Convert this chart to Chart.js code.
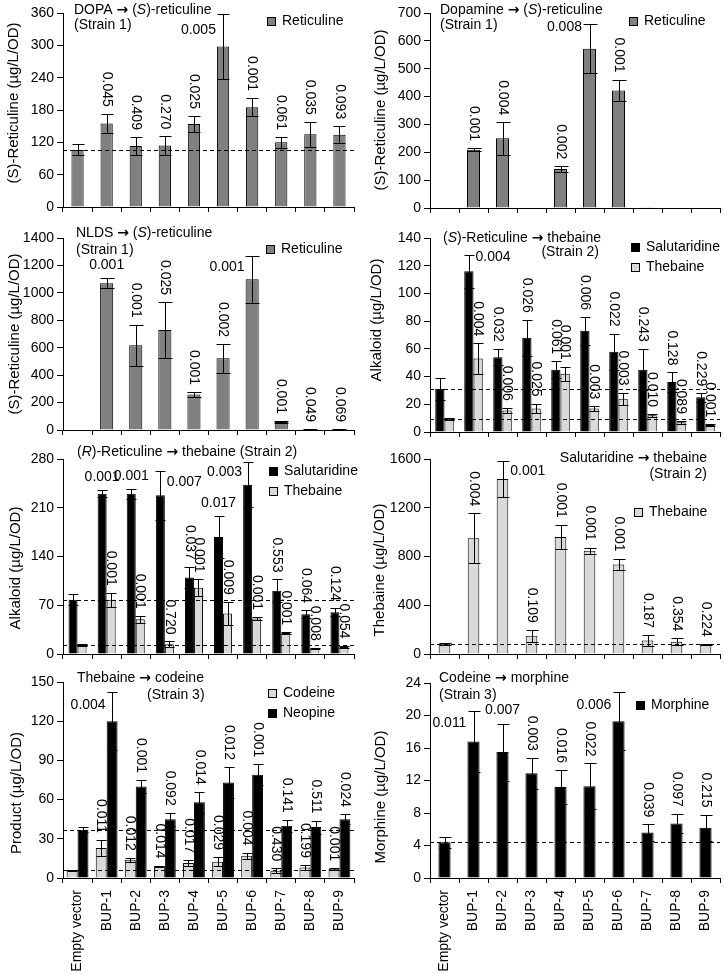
<!DOCTYPE html>
<html><head><meta charset="utf-8">
<script src="https://cdn.jsdelivr.net/npm/chart.js@4.4.0/dist/chart.umd.min.js"></script>
<style>
html,body{margin:0;padding:0;background:#fff;}
body{width:724px;height:974px;position:relative;overflow:hidden;}
canvas{position:absolute;}
</style></head><body>
<canvas id="c1" width="362" height="222" style="left:0;top:0"></canvas>
<canvas id="c2" width="362" height="222" style="left:362px;top:0"></canvas>
<canvas id="c3" width="362" height="222" style="left:0;top:222px"></canvas>
<canvas id="c4" width="362" height="222" style="left:362px;top:222px"></canvas>
<canvas id="c5" width="362" height="226" style="left:0;top:444px"></canvas>
<canvas id="c6" width="362" height="226" style="left:362px;top:444px"></canvas>
<canvas id="c7" width="362" height="304" style="left:0;top:670px"></canvas>
<canvas id="c8" width="362" height="304" style="left:362px;top:670px"></canvas>
<script>
// ---------- data ----------
const categories = ['Empty vector','BUP-1','BUP-2','BUP-3','BUP-4','BUP-5','BUP-6','BUP-7','BUP-8','BUP-9'];

// Panel 1: DOPA -> (S)-reticuline
const dopaRet    = [106, 155, 113, 114, 154, 298, 185, 120, 135, 134];
const dopaRetErr = [10, 18, 17, 17, 15, 60, 17, 10, 23, 16];
const dopaP      = [null,'0.045','0.409','0.270','0.025','0.005','0.001','0.061','0.035','0.093'];

// Panel 2: Dopamine -> (S)-reticuline
const dopamineRet    = [2, 209, 250, 2, 140, 572, 422, 1, 0, 0];
const dopamineRetErr = [0, 6, 58, 0, 10, 88, 39, 0, 0, 0];
const dopamineP      = [null,'0.001','0.004',null,'0.002','0.008','0.001',null,null,null];

// Panel 3: NLDS -> (S)-reticuline
const nldsRet    = [0, 1070, 618, 730, 258, 523, 1100, 58, 5, 5];
const nldsRetErr = [0, 35, 150, 203, 19, 104, 172, 8, 2, 2];
const nldsP      = [null,'0.001','0.001','0.025','0.001','0.002','0.001','0.001','0.049','0.069'];

// Panel 4: (S)-Reticuline -> thebaine
const sRetSal     = [31, 116, 54, 68, 45, 73, 58, 45, 36, 25];
const sRetSalErr  = [8, 12, 6, 13, 6, 10, 13, 15, 7, 3];
const sRetSalP    = [null,'0.004','0.032','0.026','0.061','0.006','0.022','0.243','0.128','0.229'];
const sRetTheb    = [9.5, 53, 15.5, 17, 42, 17, 24, 12, 7, 5];
const sRetThebErr = [0.5, 11, 2, 3.5, 5, 1.5, 4.5, 1, 1, 0.5];
const sRetThebP   = [null,'0.004','0.006','0.025','0.001','0.003','0.003','0.010','0.089','0.001'];

// Panel 5: (R)-Reticuline -> thebaine
const rRetSal     = [78, 230, 230, 228, 110, 168, 243, 91, 57, 60];
const rRetSalErr  = [8, 5, 7, 35, 15, 30, 32, 16, 6, 6];
const rRetSalP    = [null,'0.001','0.001','0.007','0.037','0.017','0.003','0.553','0.064','0.124'];
const rRetTheb    = [13, 78, 50, 14, 95, 58, 51, 30, 8, 10];
const rRetThebErr = [2, 10, 5, 4, 12, 17, 2, 1, 1, 2];
const rRetThebP   = [null,'0.001','0.001','0.720','0.001','0.009','0.001','0.001','0.008','0.054'];

// Panel 6: Salutaridine -> thebaine
const salThebaine    = [85, 950, 1435, 150, 960, 848, 735, 110, 100, 78];
const salThebaineErr = [8, 205, 145, 48, 100, 25, 48, 45, 28, 5];
const salThebaineP   = [null,'0.004','0.001','0.109','0.001','0.001','0.001','0.187','0.354','0.224'];

// Panel 7: Thebaine -> codeine
const codeine     = [6, 23, 14, 9, 11.5, 12.5, 17, 5.5, 8, 7];
const codeineErr  = [0.5, 6, 1.5, 0.5, 2, 3.5, 2.5, 2, 2, 0.5];
const codeineP    = [null,'0.011','0.012','0.014','0.017','0.029','0.004','0.430','0.199','0.001'];
const neopine     = [37, 120, 70, 45, 58, 73, 79, 40, 39, 45];
const neopineErr  = [2, 22, 5, 5, 8, 12, 8, 4.5, 5, 4];
const neopineP    = [null,'0.004','0.001','0.092','0.014','0.012','0.001','0.141','0.511','0.024'];

// Panel 8: Codeine -> morphine
const morphine    = [4.4, 16.8, 15.5, 12.9, 11.2, 11.3, 19.3, 5.6, 6.7, 6.2];
const morphineErr = [0.7, 3.8, 3.5, 1.9, 2.1, 2.8, 3.6, 1.0, 1.2, 1.6];
const morphineP   = [null,'0.011','0.007','0.003','0.016','0.022','0.006','0.039','0.097','0.215'];

// ---------- label placement styles (not data) ----------
const V = 'v';
const dopaPStyle      = [V,V,V,V,V,'hl:16',V,V,V,V];
const dopaminePStyle  = [V,V,V,V,V,'hl:3',V,V,V,V];
const nldsPStyle      = [V,'h',V,V,V,V,'hl:12',V,V,V];
const sRetSalPStyle   = [V,'hr:3',V,V,V,V,V,V,V,V];
const rRetSalPStyle   = [V,'h','h','hr:11',V,'h','hl:10',V,V,V];
const salThebPStyle   = [V,V,'hr:10',V,V,V,V,V,V,V];
const neopinePStyle   = [V,'hl:13',V,V,V,V,V,V,V,V];
const morphinePStyle  = [V,'hl:13','h',V,V,V,'hl:13',V,V,V];

const FONT = "'Liberation Sans', Arial, Helvetica, sans-serif";
const ARROW_FONT = "bold 14px 'DejaVu Sans', sans-serif";
const DARK = '#808080', LIGHT = '#d9d9d9', BLACK = '#000000';

Chart.defaults.font.family = FONT;
Chart.defaults.font.size = 14;
Chart.defaults.color = '#000';

function drawRich(ctx, str, x, y, align, size) {
  // '_' toggles italic; '→' drawn in a bolder font
  const segs = [];
  str.split('_').forEach((p, i) => {
    p.split(/(→)/).forEach(q => {
      if (!q) return;
      if (q === '→') segs.push({ t: q, f: ARROW_FONT });
      else segs.push({ t: q, f: (i % 2 ? 'italic ' : '') + size + 'px ' + FONT });
    });
  });
  const widths = segs.map(s => { ctx.font = s.f; return ctx.measureText(s.t).width; });
  const total = widths.reduce((a, b) => a + b, 0);
  let cx = align === 'right' ? x - total : (align === 'center' ? x - total / 2 : x);
  ctx.textBaseline = 'middle'; ctx.textAlign = 'left'; ctx.fillStyle = '#000';
  segs.forEach((s, i) => { ctx.font = s.f; ctx.fillText(s.t, cx, y); cx += widths[i]; });
}

function makeDeco(cfg) {
  return {
    id: 'deco_' + cfg.id,
    afterDatasetsDraw(chart) {
      const ctx = chart.ctx;
      const ys = chart.scales.y;
      const area = chart.chartArea;
      const ox = cfg.left, oy = cfg.top;
      ctx.save();
      // dashed reference lines at empty-vector level
      if (cfg.baseline) {
        ctx.strokeStyle = '#000'; ctx.lineWidth = 1; ctx.setLineDash([4, 3]);
        cfg.series.forEach(s => {
          const py = Math.round(ys.getPixelForValue(s.data[0])) + 0.5;
          ctx.beginPath(); ctx.moveTo(area.left, py); ctx.lineTo(area.right, py); ctx.stroke();
        });
        ctx.setLineDash([]);
      }
      // error bars
      ctx.strokeStyle = '#000'; ctx.lineWidth = 1;
      cfg.series.forEach((s, di) => {
        const meta = chart.getDatasetMeta(di);
        meta.data.forEach((bar, i) => {
          const e = s.err[i]; if (!e) return;
          const v = s.data[i];
          const x = Math.round(bar.x) + 0.5;
          const yt = Math.round(ys.getPixelForValue(v + e)) + 0.5;
          const yb = Math.round(ys.getPixelForValue(Math.max(0, v - e))) + 0.5;
          const hw = Math.round(bar.width / 2);
          ctx.beginPath();
          ctx.moveTo(x, yt); ctx.lineTo(x, yb);
          ctx.moveTo(x - hw, yt); ctx.lineTo(x + hw, yt);
          ctx.moveTo(x - hw, yb); ctx.lineTo(x + hw, yb);
          ctx.stroke();
        });
      });
      // p-value labels
      ctx.fillStyle = '#000';
      ctx.font = '14px ' + FONT;
      cfg.series.forEach((s, di) => {
        const meta = chart.getDatasetMeta(di);
        meta.data.forEach((bar, i) => {
          const p = s.p[i]; if (!p) return;
          const st = (s.style && s.style[i]) || 'v';
          const [kind, dyStr] = st.split(':');
          const dy = dyStr ? parseFloat(dyStr) : 11;
          const errTop = ys.getPixelForValue(s.data[i] + (s.err[i] || 0));
          ctx.save();
          if (kind === 'v') {
            ctx.translate(bar.x, errTop - 7);
            ctx.rotate(Math.PI / 2);
            ctx.textAlign = 'right'; ctx.textBaseline = 'middle';
            ctx.fillText(p, 0, 0);
          } else if (kind === 'h') {
            ctx.textAlign = 'center'; ctx.textBaseline = 'middle';
            ctx.fillText(p, bar.x, errTop - 13);
          } else if (kind === 'hl') {
            ctx.textAlign = 'right'; ctx.textBaseline = 'middle';
            ctx.fillText(p, bar.x - bar.width / 2 - 1, errTop + dy);
          } else if (kind === 'hr') {
            ctx.textAlign = 'left'; ctx.textBaseline = 'middle';
            ctx.fillText(p, bar.x + bar.width / 2 + 2, errTop + dy);
          }
          ctx.restore();
        });
      });
      // panel titles
      cfg.titles.forEach(t => drawRich(ctx, t.text, t.x - ox, t.y - oy, t.align || 'left', 14));
      // legend
      cfg.series.forEach((s, k) => {
        const ly = cfg.legend.y - oy + k * (cfg.legend.dy || 20);
        const lx = cfg.legend.x - ox;
        ctx.fillStyle = s.color;
        ctx.fillRect(lx, Math.round(ly - 4.5), 9, 9);
        ctx.strokeStyle = '#000'; ctx.lineWidth = 1;
        ctx.strokeRect(lx + 0.5, Math.round(ly - 4.5) + 0.5, 8, 8);
        ctx.fillStyle = '#000'; ctx.font = '14px ' + FONT;
        ctx.textAlign = 'left'; ctx.textBaseline = 'middle';
        ctx.fillText(s.label, lx + 15, ly);
      });
      // y-axis title
      ctx.save();
      ctx.translate(cfg.yTitlePos[0] - ox, cfg.yTitlePos[1] - oy);
      ctx.rotate(-Math.PI / 2);
      ctx.fillStyle = '#000'; ctx.font = '15px ' + FONT;
      ctx.textAlign = 'center'; ctx.textBaseline = 'middle';
      ctx.fillText(cfg.yTitle, 0, 0);
      ctx.restore();
      ctx.restore();
    }
  };
}

function buildPanel(cfg) {
  const canvas = document.getElementById(cfg.id);
  const datasets = cfg.series.map(s => ({
    label: s.label, data: s.data, backgroundColor: s.color, borderColor: '#000', borderWidth: 1,
    barPercentage: 1, categoryPercentage: cfg.catPct
  }));
  new Chart(canvas, {
    type: 'bar',
    data: { labels: categories, datasets },
    options: {
      responsive: false, animation: false, devicePixelRatio: 1,
      layout: { padding: { top: cfg.padTop, right: cfg.padRight, bottom: 0, left: 0 } },
      plugins: { legend: { display: false }, tooltip: { enabled: false }, title: { display: false } },
      scales: {
        x: {
          offset: true,
          grid: { display: true, offset: true, drawOnChartArea: false, drawTicks: true, tickLength: 5, color: '#000', lineWidth: 1 },
          border: { display: true, color: '#000', width: 1 },
          ticks: { display: cfg.xLabels, autoSkip: false, minRotation: 90, maxRotation: 90, padding: 7, font: { size: 14 }, color: '#000' },
          afterFit(scale) { scale.height = cfg.xH; scale.paddingLeft = 0; scale.paddingRight = 0; }
        },
        y: {
          min: 0, max: cfg.yMax,
          ticks: { stepSize: cfg.yStep, padding: 3, font: { size: 14 }, color: '#000', callback: v => String(v) },
          grid: { display: true, drawOnChartArea: false, drawTicks: true, tickLength: 6, color: '#000', lineWidth: 1 },
          border: { display: true, color: '#000', width: 1 },
          afterFit(scale) { scale.width = cfg.axisW; scale.paddingTop = 0; scale.paddingBottom = 0; }
        }
      }
    },
    plugins: [makeDeco(cfg)]
  });
}

const L = { left: 0, axisW: 63, padRight: 8 };
const R = { left: 362, axisW: 68, padRight: 4 };

const panels = [
  Object.assign({}, L, { id: 'c1', top: 0, padTop: 13, xH: 15, yMax: 360, yStep: 60, catPct: 0.42, baseline: true, xLabels: false,
    yTitle: '(S)-Reticuline (µg/L/OD)', yTitlePos: [14, 103],
    series: [{ label: 'Reticuline', data: dopaRet, err: dopaRetErr, p: dopaP, style: dopaPStyle, color: DARK }],
    titles: [{ text: 'DOPA → (_S_)-reticuline', x: 74, y: 10 }, { text: '(Strain 1)', x: 74, y: 25.5 }],
    legend: { x: 267, y: 21 } }),
  Object.assign({}, R, { id: 'c2', top: 0, padTop: 13, xH: 14, yMax: 700, yStep: 100, catPct: 0.45, baseline: false, xLabels: false,
    yTitle: '(S)-Reticuline (µg/L/OD)', yTitlePos: [381, 110],
    series: [{ label: 'Reticuline', data: dopamineRet, err: dopamineRetErr, p: dopamineP, style: dopaminePStyle, color: DARK }],
    titles: [{ text: 'Dopamine → (_S_)-reticuline', x: 440, y: 10 }, { text: '(Strain 1)', x: 440, y: 25.5 }],
    legend: { x: 629, y: 21 } }),
  Object.assign({}, L, { id: 'c3', top: 222, padTop: 16, xH: 14, yMax: 1400, yStep: 200, catPct: 0.45, baseline: false, xLabels: false,
    yTitle: '(S)-Reticuline (µg/L/OD)', yTitlePos: [15, 334],
    series: [{ label: 'Reticuline', data: nldsRet, err: nldsRetErr, p: nldsP, style: nldsPStyle, color: DARK }],
    titles: [{ text: 'NLDS → (_S_)-reticuline', x: 76, y: 233.5 }, { text: '(Strain 1)', x: 76, y: 250.5 }],
    legend: { x: 266, y: 249 } }),
  Object.assign({}, R, { id: 'c4', top: 222, padTop: 16, xH: 12, yMax: 140, yStep: 20, catPct: 0.64, baseline: true, xLabels: false,
    yTitle: 'Alkaloid (µg/L/OD)', yTitlePos: [377, 320],
    series: [
      { label: 'Salutaridine', data: sRetSal, err: sRetSalErr, p: sRetSalP, style: sRetSalPStyle, color: BLACK },
      { label: 'Thebaine', data: sRetTheb, err: sRetThebErr, p: sRetThebP, color: LIGHT }],
    titles: [{ text: '(_S_)-Reticuline → thebaine', x: 443, y: 238.5 }, { text: '(Strain 2)', x: 599, y: 252, align: 'right' }],
    legend: { x: 631, y: 247.5, dy: 19.5 } }),
  Object.assign({}, L, { id: 'c5', top: 444, padTop: 15, xH: 16, yMax: 280, yStep: 70, catPct: 0.62, baseline: true, xLabels: false,
    yTitle: 'Alkaloid (µg/L/OD)', yTitlePos: [16, 568],
    series: [
      { label: 'Salutaridine', data: rRetSal, err: rRetSalErr, p: rRetSalP, style: rRetSalPStyle, color: BLACK },
      { label: 'Thebaine', data: rRetTheb, err: rRetThebErr, p: rRetThebP, color: LIGHT }],
    titles: [{ text: '(_R_)-Reticuline → thebaine (Strain 2)', x: 77, y: 452 }],
    legend: { x: 269, y: 471, dy: 20.5 } }),
  Object.assign({}, R, { id: 'c6', top: 444, padTop: 15, xH: 16, yMax: 1600, yStep: 400, catPct: 0.4, baseline: true, xLabels: false,
    yTitle: 'Thebaine (µg/L/OD)', yTitlePos: [380, 570],
    series: [{ label: 'Thebaine', data: salThebaine, err: salThebaineErr, p: salThebaineP, style: salThebPStyle, color: LIGHT }],
    titles: [{ text: 'Salutaridine → thebaine', x: 707, y: 458.5, align: 'right' }, { text: '(Strain 2)', x: 707, y: 474, align: 'right' }],
    legend: { x: 634, y: 512 } }),
  Object.assign({}, L, { id: 'c7', top: 670, padTop: 12, xH: 96, yMax: 150, yStep: 30, catPct: 0.75, baseline: true, xLabels: true,
    yTitle: 'Product (µg/L/OD)', yTitlePos: [17, 793],
    series: [
      { label: 'Codeine', data: codeine, err: codeineErr, p: codeineP, color: LIGHT },
      { label: 'Neopine', data: neopine, err: neopineErr, p: neopineP, style: neopinePStyle, color: BLACK }],
    titles: [{ text: 'Thebaine → codeine', x: 77, y: 678.5 }, { text: '(Strain 3)', x: 147, y: 695 }],
    legend: { x: 268, y: 693.5, dy: 20 } }),
  Object.assign({}, R, { id: 'c8', top: 670, padTop: 13, xH: 96, yMax: 24, yStep: 4, catPct: 0.42, baseline: true, xLabels: true,
    yTitle: 'Morphine (µg/L/OD)', yTitlePos: [381, 797],
    series: [{ label: 'Morphine', data: morphine, err: morphineErr, p: morphineP, style: morphinePStyle, color: BLACK }],
    titles: [{ text: 'Codeine → morphine', x: 439, y: 678.5 }, { text: '(Strain 3)', x: 439, y: 695 }],
    legend: { x: 636, y: 705 } })
];

panels.forEach(buildPanel);
</script>
</body></html>
